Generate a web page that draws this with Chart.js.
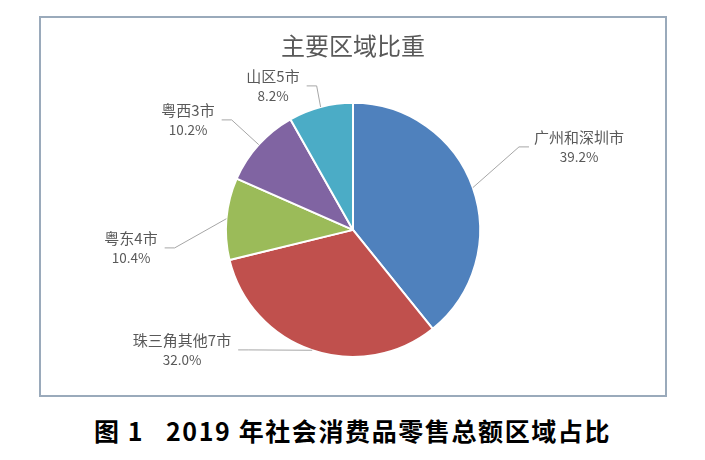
<!DOCTYPE html>
<html>
<head>
<meta charset="utf-8">
<script src="https://cdn.jsdelivr.net/npm/chart.js@4/dist/chart.umd.min.js"></script>
<style>
  html, body { margin: 0; padding: 0; background: #fff; }
  body { width: 705px; height: 460px; position: relative; overflow: hidden; }
  #frame {
    position: absolute; left: 39px; top: 16px;
    width: 624px; height: 377px;
    border: 2px solid #9aaabb; background: #fff;
  }
  #caption {
    position: absolute; left: 0; top: 412px; width: 705px;
    text-align: center; white-space: pre;
    font-family: "Noto Sans CJK SC", sans-serif; font-weight: bold;
    font-size: 25px; letter-spacing: 1.6px; color: #000;
  }
</style>
</head>
<body>
<div id="frame"><canvas id="pie" width="624" height="377"></canvas></div>
<div id="caption">图 1   2019 年社会消费品零售总额区域占比</div>

<script>
/* ---- data ---- */
const regions = ['广州和深圳市', '珠三角其他7市', '粤东4市', '粤西3市', '山区5市'];
const shares  = [39.2, 32.0, 10.4, 10.2, 8.2];
const sliceColors = ['#4f81bd', '#c0504d', '#9bbb59', '#8064a2', '#4bacc6'];

// where each label block sits, relative to the pie centre (px)
const labelOffsets = [[226, -83], [-171, 120], [-222, 18], [-165, -110], [-80, -144]];

const LABEL_FONT = "'Noto Sans CJK SC', 'Noto Sans', sans-serif";

// leader lines + two-line labels, Excel style
const sliceLabels = {
  id: 'sliceLabels',
  afterDatasetsDraw(chart) {
    const ctx = chart.ctx;
    const meta = chart.getDatasetMeta(0);
    ctx.save();
    meta.data.forEach((arc, i) => {
      const p = arc.getProps(['x', 'y', 'outerRadius', 'startAngle', 'endAngle'], true);
      const mid = (p.startAngle + p.endAngle) / 2;
      const ex = p.x + Math.cos(mid) * p.outerRadius;
      const ey = p.y + Math.sin(mid) * p.outerRadius;

      const lx = p.x + labelOffsets[i][0];
      const ly = p.y + labelOffsets[i][1];
      const name = regions[i];
      const pct  = shares[i].toFixed(1) + '%';

      ctx.font = '15px ' + LABEL_FONT;
      const w1 = ctx.measureText(name).width;
      ctx.font = '13.5px ' + LABEL_FONT;
      const w2 = ctx.measureText(pct).width;
      const w = Math.max(w1, w2);

      // leader line
      const left = lx < p.x;
      const sx = left ? lx + w / 2 + 7 : lx - w / 2 - 5;
      const kx = left ? sx + 10 : sx - 10;
      ctx.strokeStyle = '#a6a6a6';
      ctx.lineWidth = 1;
      ctx.beginPath();
      ctx.moveTo(sx, ly);
      ctx.lineTo(kx, ly);
      ctx.lineTo(ex, ey);
      ctx.stroke();

      // text
      ctx.fillStyle = '#595959';
      ctx.textAlign = 'center';
      ctx.textBaseline = 'middle';
      ctx.font = '15px ' + LABEL_FONT;
      ctx.fillText(name, lx, ly - 9.5);
      ctx.font = '13.5px ' + LABEL_FONT;
      ctx.fillText(pct, lx, ly + 10);
    });
    ctx.restore();
  }
};

new Chart(document.getElementById('pie'), {
  type: 'pie',
  data: {
    labels: regions,
    datasets: [{
      data: shares,
      backgroundColor: sliceColors,
      borderColor: '#ffffff',
      borderWidth: 2
    }]
  },
  options: {
    responsive: false,
    animation: false,
    layout: { padding: { top: 0, bottom: 37, left: 0, right: 0 } },
    plugins: {
      legend: { display: false },
      tooltip: { enabled: false },
      title: {
        display: true,
        text: '主要区域比重',
        color: '#595959',
        font: { family: LABEL_FONT, size: 24, weight: 'normal' },
        padding: { top: 13, bottom: 42 }
      }
    }
  },
  plugins: [sliceLabels]
});
</script>
</body>
</html>
